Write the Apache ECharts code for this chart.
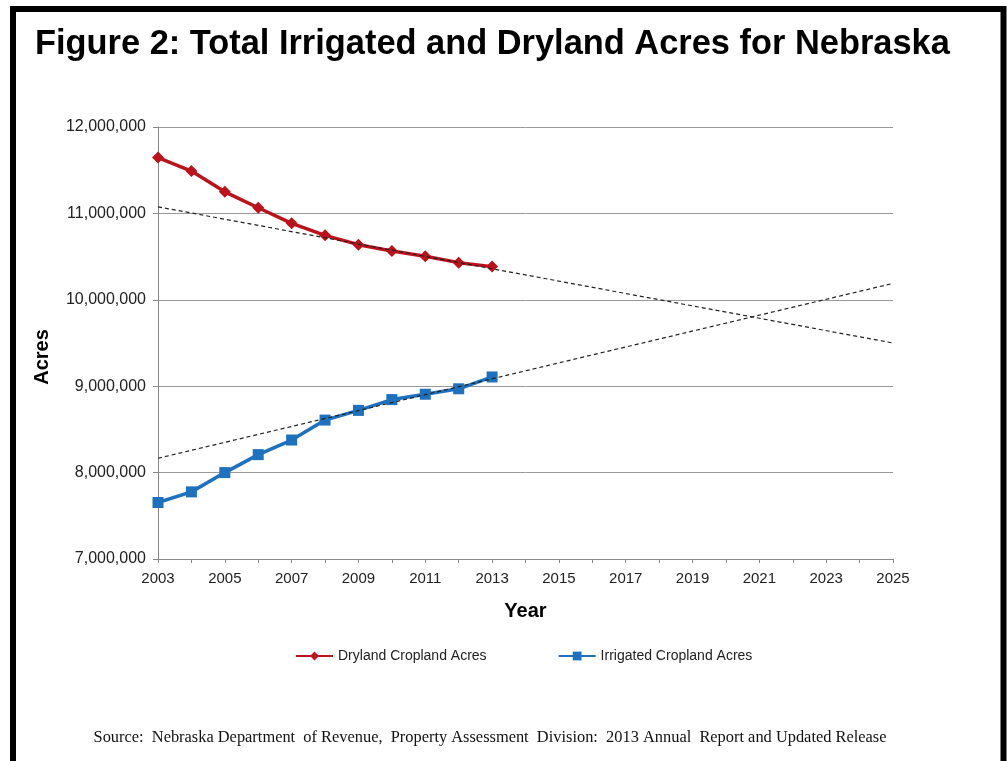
<!DOCTYPE html>
<html>
<head>
<meta charset="utf-8">
<script src="https://cdn.jsdelivr.net/npm/echarts@6/dist/echarts.min.js"></script>
<style>html,body{margin:0;padding:0;background:#fff;}#c{width:1008px;height:761px;}</style>
</head>
<body>
<div id="c"></div>
<script>
var years = [2003, 2004, 2005, 2006, 2007, 2008, 2009, 2010, 2011, 2012, 2013];
var dryland = [11646000, 11490000, 11250000, 11065000, 10885000, 10746000, 10638000, 10565000, 10504000, 10430000, 10384000];
var irrigated = [7654000, 7777000, 8000000, 8208000, 8377000, 8608000, 8720000, 8845000, 8907000, 8970000, 9107000];
var dryTrend = [[2003, 11076000], [2025, 9500000]];
var irrTrend = [[2003, 8166000], [2025, 10190000]];
var seriesNames = ['Dryland Cropland Acres', 'Irrigated Cropland Acres'];
var titleText = 'Figure 2: Total Irrigated and Dryland Acres for Nebraska';
var sourceText = 'Source:  Nebraska Department  of Revenue,  Property Assessment  Division:  2013 Annual  Report and Updated Release';

function pairs(xs, ys) { return xs.map(function (x, i) { return [x, ys[i]]; }); }
function commas(v) { return String(Math.round(v)).replace(/\B(?=(\d{3})+(?!\d))/g, ','); }

var chart = echarts.init(document.getElementById('c'), null, {renderer: 'canvas'});
chart.setOption({
  animation: false,
  backgroundColor: '#fff',
  title: {
    text: titleText, left: 35, top: 28, padding: 0,
    textStyle: {fontFamily: 'Liberation Sans', fontWeight: 'bold', fontSize: 34.4, color: '#000'}
  },
  grid: {left: 158, right: 115, top: 127, bottom: 202},
  legend: {
    data: seriesNames, left: 290, top: 644, itemWidth: 37, itemHeight: 11, itemGap: 71,
    textStyle: {fontFamily: 'Liberation Sans', fontSize: 14, color: '#222'}
  },
  xAxis: {
    type: 'value', min: 2003, max: 2025, interval: 1,
    name: 'Year', nameLocation: 'middle', nameGap: 42,
    nameTextStyle: {fontFamily: 'Liberation Sans', fontWeight: 'bold', fontSize: 20, color: '#000'},
    axisLine: {lineStyle: {color: '#888', width: 1}},
    axisTick: {show: true, length: 4, lineStyle: {color: '#888'}},
    axisLabel: {
      margin: 12, fontFamily: 'Liberation Sans', fontSize: 15, color: '#222',
      formatter: function (v) { return ((v - 2003) % 2 === 0) ? String(v) : ''; }
    },
    splitLine: {show: false}
  },
  yAxis: {
    type: 'value', min: 7000000, max: 12000000, interval: 1000000,
    name: 'Acres', nameLocation: 'middle', nameGap: 106,
    nameTextStyle: {fontFamily: 'Liberation Sans', fontWeight: 'bold', fontSize: 20, color: '#000', padding: [0, 28, 0, 0]},
    axisLine: {show: true, lineStyle: {color: '#888', width: 1}},
    axisTick: {show: true, length: 5, lineStyle: {color: '#888'}},
    axisLabel: {margin: 12, fontFamily: 'Liberation Sans', fontSize: 16, color: '#222', formatter: commas},
    splitLine: {show: true, lineStyle: {color: '#999', width: 1}}
  },
  series: [
    {
      name: seriesNames[0], type: 'line', data: pairs(years, dryland),
      symbol: 'diamond', symbolSize: 12, showSymbol: true,
      lineStyle: {color: '#BC121B', width: 3.5}, itemStyle: {color: '#BC121B'}, z: 2
    },
    {
      name: seriesNames[1], type: 'line', data: pairs(years, irrigated),
      symbol: 'rect', symbolSize: 11, showSymbol: true,
      lineStyle: {color: '#1E71BF', width: 3.5}, itemStyle: {color: '#1E71BF'}, z: 2
    },
    {
      name: 'Dryland trend', type: 'line', data: dryTrend, symbol: 'none', silent: true,
      lineStyle: {color: '#222', width: 1.2, type: [4, 3]}, z: 3
    },
    {
      name: 'Irrigated trend', type: 'line', data: irrTrend, symbol: 'none', silent: true,
      lineStyle: {color: '#222', width: 1.2, type: [4, 3]}, z: 3
    }
  ],
  graphic: [
    {
      type: 'rect', shape: {x: 13, y: 9, width: 990.5, height: 800},
      style: {fill: 'none', stroke: '#000', lineWidth: 6}, silent: true
    },
    {
      type: 'text', x: 490, y: 738,
      style: {
        text: sourceText, fill: '#111', font: '16.4px "Liberation Serif"',
        textAlign: 'center', textVerticalAlign: 'middle'
      }
    }
  ]
});
</script>
</body>
</html>
